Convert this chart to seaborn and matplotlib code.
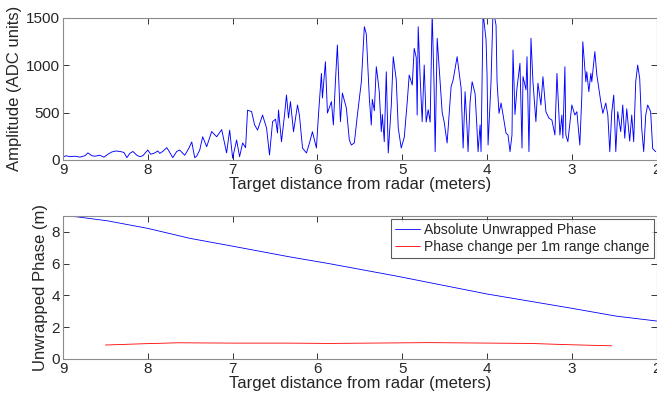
import numpy as np
import pandas as pd
import matplotlib
matplotlib.use("Agg")
import matplotlib.pyplot as plt
import seaborn as sns

# ---- top panel: amplitude trace ----
dist = [9.000, 8.965, 8.918, 8.859, 8.800, 8.741, 8.706, 8.659, 8.624, 8.565,
        8.518, 8.471, 8.424, 8.376, 8.329, 8.282, 8.247, 8.212, 8.176, 8.129,
        8.094, 8.059, 8.024, 8.000, 7.965, 7.918, 7.882, 7.859, 7.824, 7.776,
        7.741, 7.706, 7.659, 7.624, 7.565, 7.518, 7.482, 7.447, 7.424, 7.388,
        7.353, 7.306, 7.247, 7.188, 7.129, 7.071, 7.035, 7.000, 6.953, 6.918,
        6.882, 6.847, 6.824, 6.776, 6.741, 6.706, 6.647, 6.600, 6.565, 6.529,
        6.494, 6.471, 6.459, 6.424, 6.388, 6.365, 6.341, 6.318, 6.282, 6.235,
        6.212, 6.176, 6.129, 6.094, 6.059, 6.012, 5.988, 5.953, 5.941, 5.906,
        5.882, 5.835, 5.812, 5.788, 5.765, 5.729, 5.706, 5.659, 5.624, 5.600,
        5.565, 5.529, 5.482, 5.447, 5.424, 5.388, 5.365, 5.353, 5.329, 5.306,
        5.294, 5.271, 5.247, 5.235, 5.212, 5.188, 5.165, 5.129, 5.106, 5.071,
        5.047, 5.012, 4.976, 4.941, 4.918, 4.882, 4.859, 4.835, 4.824, 4.812,
        4.788, 4.765, 4.741, 4.718, 4.694, 4.671, 4.647, 4.624, 4.612, 4.588,
        4.553, 4.529, 4.506, 4.471, 4.424, 4.400, 4.353, 4.306, 4.282, 4.259,
        4.235, 4.224, 4.200, 4.176, 4.141, 4.118, 4.106, 4.082, 4.071, 4.047,
        4.012, 4.000, 3.988, 3.953, 3.929, 3.894, 3.882, 3.859, 3.835, 3.812,
        3.776, 3.753, 3.729, 3.706, 3.694, 3.671, 3.647, 3.612, 3.588, 3.576,
        3.541, 3.529, 3.506, 3.482, 3.459, 3.424, 3.400, 3.365, 3.341, 3.306,
        3.271, 3.235, 3.200, 3.176, 3.141, 3.118, 3.106, 3.082, 3.071, 3.047,
        3.012, 3.000, 2.965, 2.941, 2.906, 2.882, 2.871, 2.835, 2.824, 2.800,
        2.776, 2.765, 2.729, 2.706, 2.659, 2.635, 2.600, 2.576, 2.553, 2.529,
        2.506, 2.482, 2.459, 2.424, 2.400, 2.376, 2.353, 2.318, 2.294, 2.271,
        2.247, 2.224, 2.200, 2.176, 2.153, 2.129, 2.106, 2.071, 2.047, 2.012]
amplitude = [30, 45, 35, 40, 30, 45, 75, 45, 40, 50,
             30, 60, 85, 95, 90, 80, 25, 70, 90, 50,
             35, 45, 80, 105, 60, 75, 95, 70, 90, 130,
             80, 25, 90, 105, 50, 120, 190, 25, 40, 105,
             245, 140, 300, 245, 320, 75, 315, 20, 210, 35,
             180, 130, 525, 510, 370, 316, 474, 337, 53, 404,
             430, 285, 527, 193, 474, 685, 443, 615, 298, 580,
             470, 126, 74, 179, 298, 126, 474, 913, 653, 1036,
             495, 615, 369, 825, 1212, 404, 706, 548, 211, 158,
             180, 474, 825, 1405, 1330, 653, 369, 640, 520, 983,
             900, 720, 298, 480, 193, 930, 74, 580, 1089, 850,
             337, 126, 240, 615, 896, 790, 1177, 1080, 474, 1405,
             850, 404, 1001, 400, 530, 400, 1550, 759, 88, 1283,
             825, 500, 404, 179, 773, 843, 1089, 759, 126, 720,
             320, 88, 615, 825, 700, 316, 88, 370, 88, 1550,
             1270, 896, 158, 825, 1600, 1420, 825, 492, 601, 480,
             281, 265, 88, 265, 1159, 480, 759, 1019, 126, 880,
             740, 1089, 88, 1283, 825, 404, 810, 580, 878, 509,
             443, 420, 264, 913, 264, 474, 230, 983, 264, 193,
             474, 580, 474, 509, 158, 685, 1247, 825, 930, 720,
             913, 825, 1142, 900, 615, 492, 600, 474, 88, 509,
             685, 88, 509, 300, 580, 230, 540, 200, 474, 193,
             825, 1001, 860, 330, 88, 474, 580, 509, 120, 88]

# ---- bottom panel ----
abs_dist = [9.0, 8.84, 8.48, 8.0, 7.5, 7.0, 6.33, 5.86, 5.07, 4.0, 3.0, 2.48, 2.0]
abs_phase = [9.0, 8.95, 8.70, 8.22, 7.59, 7.10, 6.43, 6.0, 5.22, 4.09, 3.19, 2.70, 2.39]
chg_dist = [8.5, 8.05, 7.65, 7.0, 6.36, 5.86, 4.68, 3.5, 3.04, 2.53]
chg_phase = [0.88, 0.96, 1.02, 1.0, 1.0, 0.98, 1.03, 0.98, 0.90, 0.83]

sns.set_theme(style="ticks")
plt.rcParams['font.family'] = ['Liberation Sans', 'DejaVu Sans']
plt.rcParams['xtick.direction'] = 'in'
plt.rcParams['ytick.direction'] = 'in'

fig = plt.figure(figsize=(6.57, 3.98), dpi=100)
ax1 = fig.add_axes([0.0959, 0.598, 0.9036, 0.3575])
ax2 = fig.add_axes([0.0959, 0.098, 0.9036, 0.3593])

top_df = pd.DataFrame({"d": dist, "a": amplitude})
sns.lineplot(data=top_df, x="d", y="a", ax=ax1, color="#0000ff",
             linewidth=0.65, estimator=None, sort=False)

abs_df = pd.DataFrame({"d": abs_dist, "p": abs_phase})
chg_df = pd.DataFrame({"d": chg_dist, "p": chg_phase})
sns.lineplot(data=abs_df, x="d", y="p", ax=ax2, color="#0000ff", linewidth=0.6,
             estimator=None, sort=False, label="Absolute Unwrapped Phase")
sns.lineplot(data=chg_df, x="d", y="p", ax=ax2, color="#ff0000", linewidth=0.6,
             estimator=None, sort=False, label="Phase change per 1m range change")

ax1.set_xlim(9, 2)
ax1.set_ylim(0, 1500)
ax1.set_yticks([0, 500, 1000, 1500])
ax2.set_xlim(9, 2)
ax2.set_ylim(0, 9)
ax2.set_yticks([0, 2, 4, 6, 8])

for ax in (ax1, ax2):
    ax.set_xticks([9, 8, 7, 6, 5, 4, 3, 2])
    ax.set_xlabel("Target distance from radar (meters)", fontsize=12, labelpad=0)
    ax.tick_params(axis='both', labelsize=11, length=4, width=0.7, color='#333333',
                   top=True, right=True, pad=2)
    for s in ax.spines.values():
        s.set_visible(True)
        s.set_color('#8c8c8c')
        s.set_linewidth(0.8)

ax1.set_ylabel("Amplitude (ADC units)", fontsize=12, labelpad=3)
ax2.set_ylabel("Unwrapped Phase (m)", fontsize=12, labelpad=3)

leg = ax2.legend(loc='upper right', fontsize=10, frameon=True, fancybox=False,
                 handlelength=1.8, handletextpad=0.3, borderpad=0.3,
                 labelspacing=0.2, borderaxespad=0.2)
leg.get_frame().set_edgecolor('#333333')
leg.get_frame().set_linewidth(0.8)

fig.savefig("out.png", dpi=100)
